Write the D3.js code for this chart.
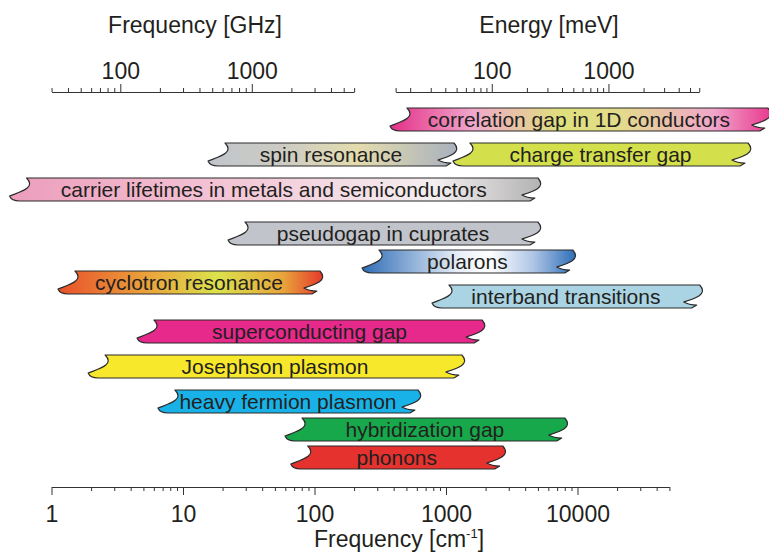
<!DOCTYPE html>
<html>
<head>
<meta charset="utf-8">
<script src="https://cdn.jsdelivr.net/npm/d3@7"></script>
<style>
  body { margin: 0; background: #fff; }
  svg { display: block; font-family: "Liberation Sans", Arial, sans-serif; }
  .axis path, .axis line { stroke: #333; stroke-width: 1; }
  .axis text { font-size: 23px; fill: #231f20; font-family: "Liberation Sans", Arial, sans-serif; }
  .title { font-size: 23px; fill: #231f20; }
  .band-label { font-size: 21px; fill: #231f20; text-anchor: middle; }
</style>
</head>
<body>
<div class="chart"></div>
<script>
// ranges in cm^-1 (left tip, right end)
const bands = ["correlation gap in 1D conductors", "spin resonance", "charge transfer gap",
  "carrier lifetimes in metals and semiconductors", "pseudogap in cuprates", "polarons",
  "cyclotron resonance", "interband transitions", "superconducting gap", "Josephson plasmon",
  "heavy fermion plasmon", "hybridization gap", "phonons"];
const bandLo = [375, 15.5, 1130, 0.48, 22, 230, 1.12, 783, 4.47, 1.9, 6.45, 59.7, 66];
const bandHi = [280000, 1150, 198000, 5000, 5000, 9200, 110, 85000, 1880, 1320, 612, 8000, 2700];

// axis ticks
const cmTicks = [1, 10, 100, 1000, 10000];
const ghzTicks = [100, 1000];
const mevTicks = [100, 1000];

// layout + colours (not data)
const bandTop = [108, 143, 143, 178, 222, 250, 271, 285, 320, 355, 390, 418, 446];
const bandH = 23;
const bandFill = [
  [[0, "#e42f88"], [0.22, "#f0a8cb"], [0.45, "#dfe07c"], [0.6, "#e3dc8a"], [0.85, "#f0a6cb"], [1, "#e9398f"]],
  [[0, "#c1c5cb"], [0.3, "#ccccc4"], [0.6, "#e4dcae"], [1, "#a9b1bd"]],
  "#d4e04b",
  [[0, "#ec9dbb"], [0.4, "#f3c4d5"], [0.8, "#f4eff1"], [1, "#b3b3b3"]],
  "#c1c4ca",
  [[0, "#2f6db5"], [0.45, "#e8eef8"], [0.6, "#ffffff"], [0.8, "#b0c6e6"], [1, "#2e6eb8"]],
  [[0, "#e9512b"], [0.35, "#eaa63c"], [0.6, "#dbe24c"], [0.85, "#e8a53a"], [1, "#e6392b"]],
  "#aad4e3", "#e6298b", "#f8e82c", "#19b2e8", "#16a84a", "#e5322f"
];

const width = 769, height = 554;

const svg = d3.select(".chart").append("svg")
  .attr("width", width)
  .attr("height", height);

const defs = svg.append("defs");

// bottom axis: wavenumber
const xCm = d3.scaleLog().domain([1, 50000]).range([51.5, 51.5 + 131.5 * Math.log10(50000)]);
// top left axis: GHz, tied to cm^-1
const xGhz = d3.scaleLog().domain([30, 6000]).range([xCm(30 / 29.9792), xCm(6000 / 29.9792)]);
// top right axis: meV, as drawn in the original
const xMev = d3.scaleLog().domain([15, 6000]).range([395.6, 395.6 + 116.7 * Math.log10(400)]);

function logTicks(lo, hi) {
  let t = [];
  for (let e = -1; e < 7; e++) {
    for (let m = 1; m < 10; m++) {
      let v = m * Math.pow(10, e);
      if (v >= lo - 1e-9 && v <= hi + 1e-9) t.push(+v.toPrecision(3));
    }
  }
  if (t[0] > lo) t.unshift(lo);
  return t;
}

function drawAxis(scale, lo, hi, labels, y, top) {
  const ticks = logTicks(lo, hi);
  const axis = (top ? d3.axisTop(scale) : d3.axisBottom(scale))
    .tickValues(ticks)
    .tickSize(4)
    .tickSizeOuter(0)
    .tickFormat(d => labels.includes(d) ? d : "");

  const g = svg.append("g")
    .attr("class", "axis")
    .attr("transform", `translate(0,${y})`)
    .call(axis);

  g.selectAll(".tick line")
    .attr("y2", d => (Math.abs(Math.log10(d) % 1) < 1e-6 ? 8 : 4) * (top ? -1 : 1));

  if (top) {
    g.selectAll(".tick text").attr("y", -13).attr("dy", "0");
  } else {
    g.selectAll(".tick text").attr("y", 19);
  }
  return g;
}

drawAxis(xCm, 1, 50000, cmTicks, 487, false);
drawAxis(xGhz, 30, 6000, ghzTicks, 92, true);
drawAxis(xMev, 15, 6000, mevTicks, 92, true);

svg.append("text")
  .attr("class", "title")
  .attr("x", 195)
  .attr("y", 33)
  .attr("text-anchor", "middle")
  .text("Frequency [GHz]");

svg.append("text")
  .attr("class", "title")
  .attr("x", 549)
  .attr("y", 33)
  .attr("text-anchor", "middle")
  .text("Energy [meV]");

const xt = svg.append("text")
  .attr("class", "title")
  .attr("x", 399)
  .attr("y", 547)
  .attr("font-size", 22)
  .attr("text-anchor", "middle");
xt.append("tspan").text("Frequency [cm");
xt.append("tspan").attr("dy", -9).attr("font-size", 13).text("-1");
xt.append("tspan").attr("dy", 9).text("]");

// ribbon with wavy cut ends; xL = left tip, xR = top right corner
function ribbon(xL, xR, yT, yB) {
  const p = d3.path();
  p.moveTo(xL + 17, yT);
  p.lineTo(xR, yT);
  p.bezierCurveTo(xR + 9, yT + 10, xR - 6, yB - 9, xR - 16, yB - 6);
  p.quadraticCurveTo(xR - 11, yB - 3, xR - 3, yB - 3);
  p.lineTo(xR - 8, yB);
  p.lineTo(xL + 10, yB);
  p.quadraticCurveTo(xL + 2, yB, xL, yB - 5);
  p.bezierCurveTo(xL + 10, yB - 9, xL + 27, yT + 10, xL + 17, yT);
  p.closePath();
  return p.toString();
}

bands.forEach(function(name, i) {
  let fill = bandFill[i];
  if (Array.isArray(fill)) {
    const grad = defs.append("linearGradient")
      .attr("id", "grad" + i)
      .attr("x1", 0).attr("x2", 1).attr("y1", 0).attr("y2", 0);
    fill.forEach(s => grad.append("stop").attr("offset", s[0]).attr("stop-color", s[1]));
    fill = "url(#grad" + i + ")";
  }

  const xL = xCm(bandLo[i]);
  const xR = xCm(bandHi[i]);
  const yT = bandTop[i];
  const yB = yT + bandH;

  svg.append("path")
    .attr("d", ribbon(xL, xR, yT, yB))
    .attr("fill", fill)
    .attr("stroke", "#2b2b2b")
    .attr("stroke-width", 1.2)
    .attr("stroke-linejoin", "round");

  svg.append("text")
    .attr("class", "band-label")
    .attr("x", (xL + xR) / 2)
    .attr("y", yT + bandH / 2 + 7.5)
    .text(name);
});
</script>
</body>
</html>
